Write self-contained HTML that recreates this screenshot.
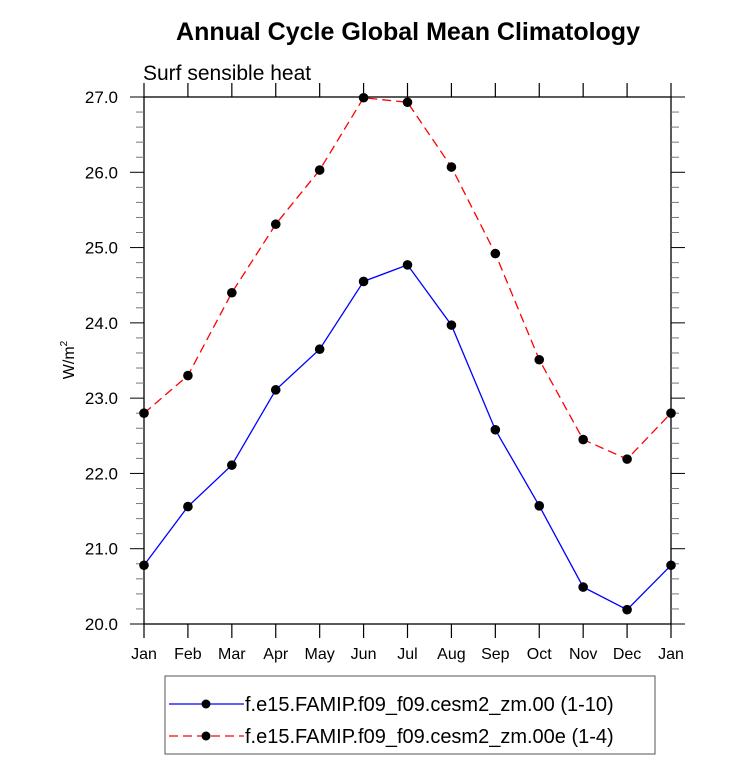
<!DOCTYPE html>
<html><head><meta charset="utf-8"><style>
body{margin:0;background:#fff;width:733px;height:761px;overflow:hidden}
text{font-family:"Liberation Sans",Arial,sans-serif;fill:#000}
</style></head><body>
<svg id="c" width="733" height="761" xmlns="http://www.w3.org/2000/svg">
<text x="408" y="40" text-anchor="middle" font-size="25" font-weight="bold">Annual Cycle Global Mean Climatology</text>
<text x="143" y="80" font-size="21">Surf sensible heat</text>
<text transform="translate(74,360) rotate(-90)" text-anchor="middle" font-size="16">W/m<tspan font-size="10" dy="-7">2</tspan></text>
<g id="axes"></g>
<g id="series"></g>
<rect x="165" y="676" width="490" height="78" fill="none" stroke="#555" stroke-width="1"/>
<g>
<line x1="169" y1="704" x2="244" y2="704" stroke="#00f" stroke-width="1.3"/>
<circle cx="206" cy="704" r="4.5" fill="#000"/>
<text x="245" y="711" font-size="20">f.e15.FAMIP.f09_f09.cesm2_zm.00 (1-10)</text>
</g>
<g>
<line x1="169" y1="736" x2="244" y2="736" stroke="#f00" stroke-width="1.3" stroke-dasharray="9,5"/>
<circle cx="206" cy="736" r="4.5" fill="#000"/>
<text x="245" y="743" font-size="20">f.e15.FAMIP.f09_f09.cesm2_zm.00e (1-4)</text>
</g>
</svg>
<script>
const months=["Jan","Feb","Mar","Apr","May","Jun","Jul","Aug","Sep","Oct","Nov","Dec","Jan"];
const blueValues=[20.78,21.56,22.11,23.11,23.65,24.55,24.77,23.97,22.58,21.57,20.49,20.19,20.78];
const redValues=[22.80,23.30,24.40,25.31,26.03,26.99,26.93,26.07,24.92,23.51,22.45,22.19,22.80];
const yTicks=[20,21,22,23,24,25,26,27];
const L=144,R=671,T=97,B=624,yMin=20,yMax=27;
const xs=i=>L+(R-L)*i/(months.length-1);
const ys=v=>B-(v-yMin)/(yMax-yMin)*(B-T);
const NS="http://www.w3.org/2000/svg";
function mk(tag,attrs,parent){const e=document.createElementNS(NS,tag);for(const k in attrs)e.setAttribute(k,attrs[k]);parent.appendChild(e);return e;}
const ax=document.getElementById('axes');
const fr=mk('rect',{x:L,y:T,width:R-L,height:B-T,fill:'none',stroke:'#000','stroke-width':1.3},ax);


months.forEach((m,i)=>{
 const x=xs(i);
 mk('line',{x1:x,y1:B,x2:x,y2:B+14,stroke:'#000','stroke-width':1.2},ax);
 mk('line',{x1:x,y1:T,x2:x,y2:T-14,stroke:'#000','stroke-width':1.2},ax);
 const t=mk('text',{x:x,y:B+35,'text-anchor':'middle','font-size':16},ax);
 t.textContent=m;
 
 
});
for(let v=yMin;v<=yMax+1e-9;v+=0.2){
 const y=ys(v);const major=Math.abs(v-Math.round(v))<1e-6;
 const len=major?14:8;
 mk('line',{x1:L-len,y1:y,x2:L,y2:y,stroke:major?'#000':'#777','stroke-width':1},ax);
 mk('line',{x1:R,y1:y,x2:R+len,y2:y,stroke:major?'#000':'#777','stroke-width':1},ax);
}
yTicks.forEach(v=>{
 const t=mk('text',{x:L-26,y:ys(v)+6,'text-anchor':'end','font-size':17},ax);
 t.textContent=v.toFixed(1);
 
 
});
const sg=document.getElementById('series');
function series(vals,color,dash,name){
 const p=mk('polyline',{points:vals.map((v,i)=>xs(i)+','+ys(v)).join(' '),fill:'none',stroke:color,'stroke-width':1.3,'stroke-dasharray':dash},sg);
 
 
 vals.forEach((v,i)=>{
  const c=mk('circle',{cx:xs(i),cy:ys(v),r:4.8,fill:'#000'},sg);
  
  
 });
}
series(blueValues,'#00f','none','blue-series');
series(redValues,'#f00','9,5','red-series');
</script>
</body></html>
